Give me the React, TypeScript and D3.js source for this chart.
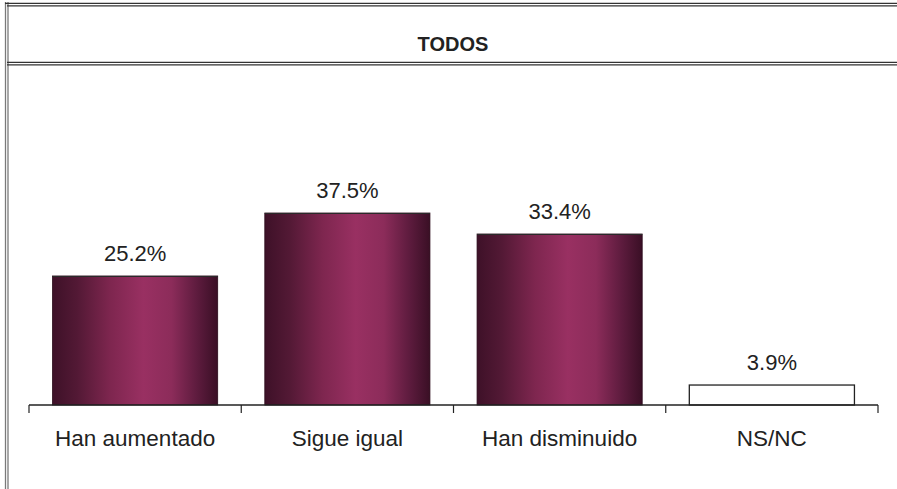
import React from "react";
import * as d3 from "d3";

const categories = ["Han aumentado", "Sigue igual", "Han disminuido", "NS/NC"];
const values = [25.2, 37.5, 33.4, 3.9];
const labels = ["25.2%", "37.5%", "33.4%", "3.9%"];
const title = "TODOS";

const W = 897;
const H = 489;

export default function App() {
  const x = d3.scaleBand<string>().domain(categories).range([29, 878]).paddingInner(0.222).paddingOuter(0.111);
  const bandStep = x.step();
  const y = d3.scaleLinear().domain([0, 50]).range([405, 149]);
  const font = "Arial, 'Liberation Sans', Helvetica, sans-serif";
  const boundaries = d3.range(categories.length + 1).map((i) => 29 + i * bandStep);

  return (
    <svg width={W} height={H} style={{ position: "absolute", left: 0, top: 0, background: "#fff" }} fontFamily={font}>
      <defs>
        <linearGradient id="barGrad" x1="0" x2="1" y1="0" y2="0">
          <stop offset="0" stopColor="#3e1128" />
          <stop offset="0.15" stopColor="#531935" />
          <stop offset="0.35" stopColor="#7e264f" />
          <stop offset="0.55" stopColor="#993062" />
          <stop offset="0.72" stopColor="#8c2c5a" />
          <stop offset="0.88" stopColor="#5c1b3d" />
          <stop offset="1" stopColor="#3a0f25" />
        </linearGradient>
      </defs>
      <rect x={0} y={0} width={W} height={H} fill="#fff" />
      {/* frame */}
      <line x1={5.5} x2={5.5} y1={2} y2={H} stroke="#7a7a7a" strokeWidth={1.3} />
      <line x1={8} x2={8} y1={2} y2={H} stroke="#7a7a7a" strokeWidth={1.3} />
      <line x1={5} x2={W} y1={3.3} y2={3.3} stroke="#333" strokeWidth={1.3} />
      <line x1={7} x2={W} y1={5.8} y2={5.8} stroke="#333" strokeWidth={1.3} />
      <line x1={7} x2={W} y1={62.3} y2={62.3} stroke="#333" strokeWidth={1.3} />
      <line x1={7} x2={W} y1={64.8} y2={64.8} stroke="#333" strokeWidth={1.3} />
      <text x={453} y={51} textAnchor="middle" fontSize={20} fontWeight="bold" fill="#222">{title}</text>

      {/* bars */}
      {categories.map((c, i) => {
        const bx = x(c)!;
        const bw = x.bandwidth();
        const top = y(values[i]);
        const isLast = i === categories.length - 1;
        return (
          <g key={c}>
            <rect x={bx} y={top} width={bw} height={y(0) - top}
              fill={isLast ? "#fff" : "url(#barGrad)"}
              stroke={isLast ? "#222" : "#2a0a1a"} strokeWidth={isLast ? 1.3 : 0.8} />
            {!isLast && <line x1={bx} x2={bx + bw} y1={top + 0.5} y2={top + 0.5} stroke="#2a2a2a" strokeWidth={1.2} />}
            <text x={bx + bw / 2} y={top - 15} textAnchor="middle" fontSize={22} fill="#222">{labels[i]}</text>
            <text x={bx + bw / 2} y={446} textAnchor="middle" fontSize={22.5} fill="#222">{c}</text>
          </g>
        );
      })}

      {/* axis */}
      <line x1={29} x2={878} y1={y(0)} y2={y(0)} stroke="#222" strokeWidth={1.5} />
      {boundaries.map((b, i) => (
        <line key={i} x1={b} x2={b} y1={y(0)} y2={y(0) + 8} stroke="#222" strokeWidth={1.2} />
      ))}
    </svg>
  );
}
